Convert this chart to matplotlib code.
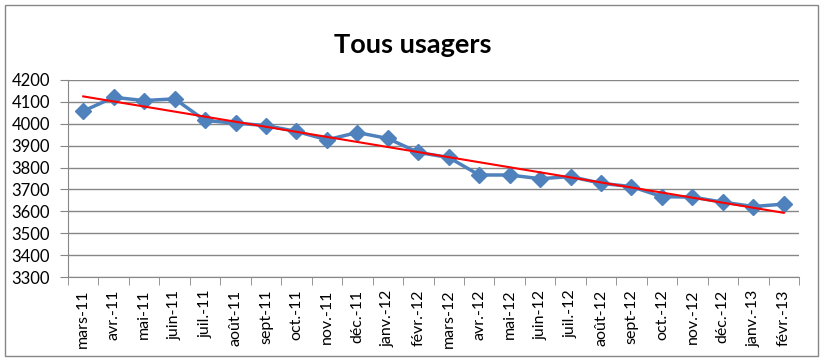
import matplotlib
matplotlib.use("Agg")
from matplotlib import pyplot as plt
from matplotlib.patches import Rectangle
import numpy as np

months = ["mars-11", "avr.-11", "mai-11", "juin-11", "juil.-11", "août-11",
          "sept-11", "oct.-11", "nov.-11", "déc.-11", "janv.-12", "févr.-12",
          "mars-12", "avr.-12", "mai-12", "juin-12", "juil.-12", "août-12",
          "sept-12", "oct.-12", "nov.-12", "déc.-12", "janv.-13", "févr.-13"]
usagers = [4058, 4121, 4106, 4114, 4015, 4003, 3992, 3965, 3927, 3960,
           3933, 3869, 3846, 3766, 3766, 3749, 3759, 3728, 3713, 3667,
           3665, 3642, 3622, 3633]

plt.rcParams['font.family'] = ['Lato', 'DejaVu Sans']

fig = plt.figure(figsize=(8.25, 3.63), dpi=100)
ax = fig.add_axes([68 / 825, 1 - 277 / 363, (799 - 68) / 825, (277 - 80) / 363])

x = np.arange(len(months))
ax.plot(x, usagers, color='#4F81BD', linewidth=2.5, marker='D', markersize=8,
        zorder=3)

# linear trend line
slope, intercept = np.polyfit(x, usagers, 1)
ax.plot(x, slope * x + intercept, color='#FF0000', linewidth=1.5, zorder=4)

ax.set_xlim(-0.5, len(months) - 0.5)
ax.set_ylim(3300, 4200)
ax.set_yticks(np.arange(3300, 4201, 100))
ax.yaxis.grid(True, color='#868686', linewidth=1)
ax.set_axisbelow(True)

ax.set_xticks(x)
ax.set_xticklabels(months, rotation=90, fontsize=11.5)
ax.set_xticks(np.arange(-0.5, len(months)), minor=True)
ax.tick_params(axis='x', which='major', length=0, pad=9)
ax.tick_params(axis='x', which='minor', length=6, color='#868686')
ax.tick_params(axis='y', length=6, color='#868686', labelsize=12, pad=7)

for side in ['top', 'right']:
    ax.spines[side].set_visible(False)
for side in ['left', 'bottom']:
    ax.spines[side].set_color('#868686')

fig.text(0.5, 1 - 45 / 363, "Tous usagers", ha='center', va='center',
         fontsize=19.5, fontweight='bold')

fig.patches.append(Rectangle((5 / 825, 1 - 356 / 363), 813 / 825, 351 / 363,
                             transform=fig.transFigure, fill=False,
                             edgecolor='#868686', linewidth=1))

fig.savefig("out.png", dpi=100)
